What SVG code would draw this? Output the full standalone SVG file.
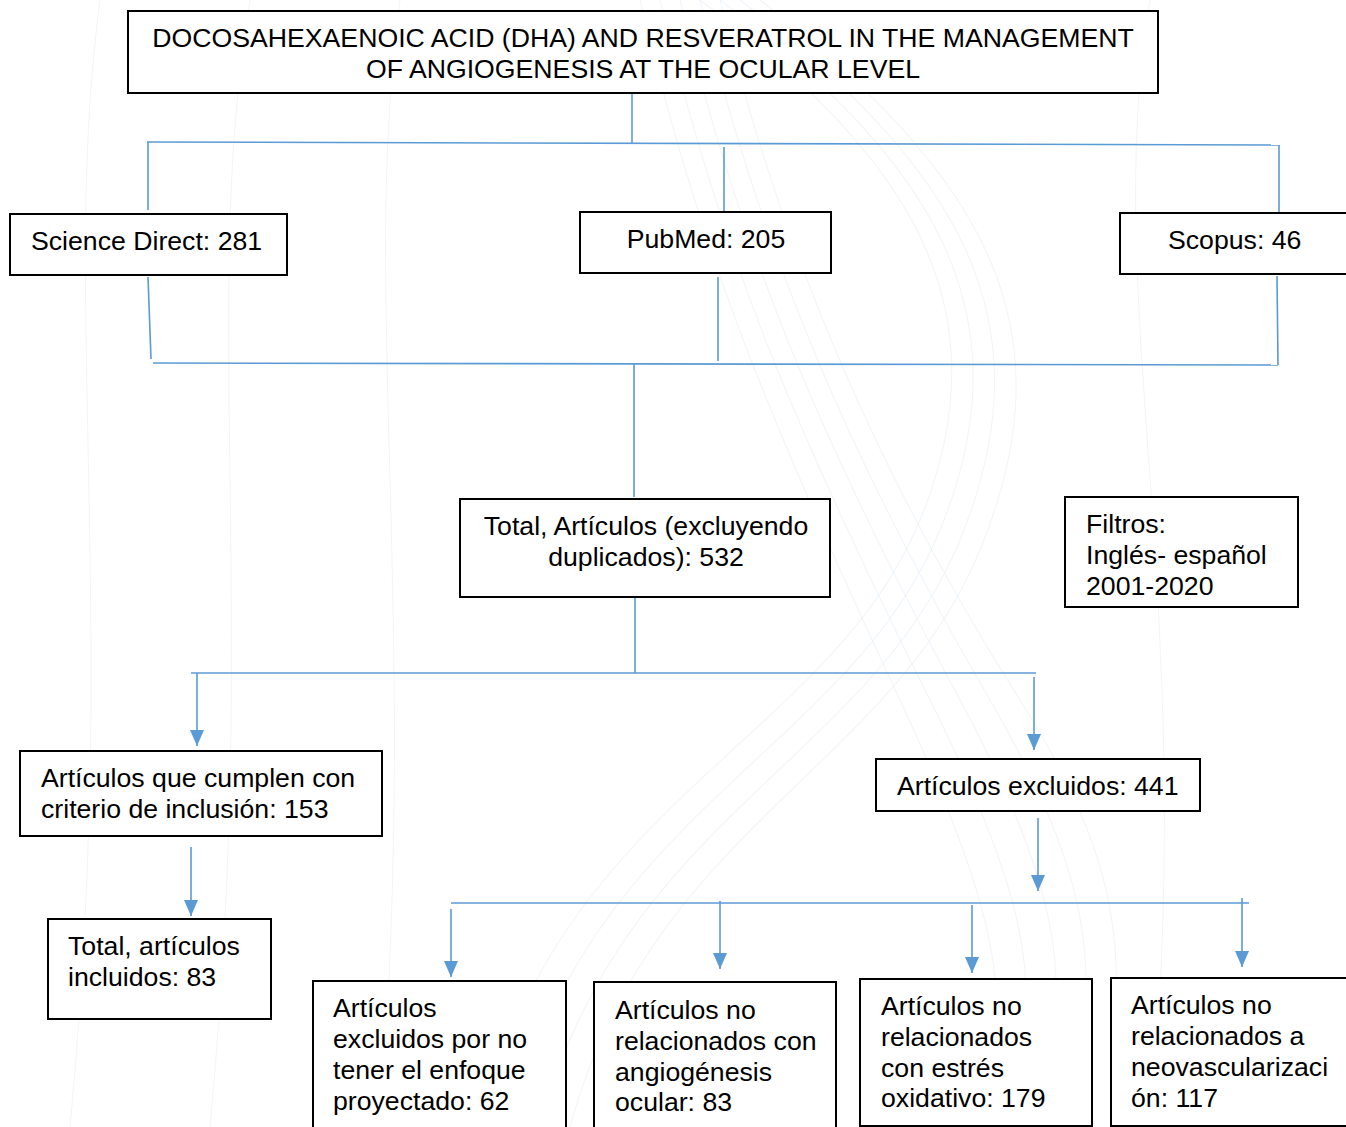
<svg xmlns="http://www.w3.org/2000/svg" width="1346" height="1127" viewBox="0 0 1346 1127">
<style>
.box{fill:#ffffff;stroke:#000000;stroke-width:2}
.t{font-family:"Liberation Sans",Arial,sans-serif;font-size:26.67px;fill:#000000}
.c{fill:none;stroke:#5b9bd5;stroke-width:1.6}
.bg{fill:none;stroke:#e8eff7;stroke-width:1.1;opacity:0.6}
</style>
<defs>
<marker id="ah" viewBox="0 0 16 14" refX="16" refY="7" markerWidth="16" markerHeight="14" markerUnits="userSpaceOnUse" orient="auto">
<path d="M0,0 L16,7 L0,14 z" fill="#5b9bd5"/>
</marker>
</defs>
<rect width="1346" height="1127" fill="#ffffff"/>
<g id="background">
<path class="bg" d="M640,0 C700,250 760,400 900,700 S980,1000 1000,1127"/>
<path class="bg" d="M660,0 C720,250 790,420 930,700 S1010,1000 1030,1127"/>
<path class="bg" d="M680,0 C740,250 820,440 960,700 S1040,1000 1060,1127"/>
<path class="bg" d="M700,0 C760,250 850,460 990,700 S1070,1000 1090,1127"/>
<path class="bg" d="M720,0 C780,250 880,480 1020,700 S1100,1000 1120,1127"/>
<path class="bg" d="M700,0 C900,150 1010,300 920,520 S560,800 480,1127"/>
<path class="bg" d="M720,0 C930,160 1030,310 940,530 S590,810 510,1127"/>
<path class="bg" d="M740,0 C960,170 1050,320 960,540 S620,820 540,1127"/>
<path class="bg" d="M760,0 C990,180 1070,330 980,550 S650,830 570,1127"/>
<path class="bg" d="M400,0 C360,300 420,600 380,1127"/>
<path class="bg" d="M250,0 C200,300 260,600 210,1127"/>
<path class="bg" d="M100,0 C60,300 120,600 70,1127"/>
<path class="bg" d="M1150,0 C1100,300 1200,600 1150,1127"/>
</g>
<g id="connectors">
<path class="c" d="M632,93 L632,143"/>
<path class="c" d="M147,142 L1280,145"/>
<path class="c" d="M148,142 L148,210"/>
<path class="c" d="M724,147 L724,212"/>
<path class="c" d="M1279,145 L1279,212"/>
<path class="c" d="M148,277 L151,359"/>
<path class="c" d="M718,277 L718,361"/>
<path class="c" d="M1277,276 L1278,365"/>
<path class="c" d="M153,363 L1278,365"/>
<path class="c" d="M634,364 L634,497"/>
<path class="c" d="M635,597 L635,673"/>
<path class="c" d="M191,673 L1036,673"/>
<path class="c" d="M197,673 L197,746" marker-end="url(#ah)"/>
<path class="c" d="M1034,677 L1034,750" marker-end="url(#ah)"/>
<path class="c" d="M191,847 L191,916" marker-end="url(#ah)"/>
<path class="c" d="M1038,818 L1038,891" marker-end="url(#ah)"/>
<path class="c" d="M451,903 L1249,903"/>
<path class="c" d="M451,909 L451,977" marker-end="url(#ah)"/>
<path class="c" d="M720,901 L720,969" marker-end="url(#ah)"/>
<path class="c" d="M972,905 L972,973" marker-end="url(#ah)"/>
<path class="c" d="M1242,898 L1242,967" marker-end="url(#ah)"/>
</g>
<g id="title">
<rect class="box" x="128" y="11" width="1030" height="82"/>
<text class="t" x="643" y="47" text-anchor="middle">DOCOSAHEXAENOIC ACID (DHA) AND RESVERATROL IN THE MANAGEMENT</text>
<text class="t" x="643" y="78" text-anchor="middle">OF ANGIOGENESIS AT THE OCULAR LEVEL</text>
</g>
<g id="sciencedirect">
<rect class="box" x="10" y="214" width="277" height="61"/>
<text class="t" x="31" y="250">Science Direct: 281</text>
</g>
<g id="pubmed">
<rect class="box" x="580" y="212" width="251" height="61"/>
<text class="t" x="706" y="248" text-anchor="middle">PubMed: 205</text>
</g>
<g id="scopus">
<rect class="box" x="1120" y="213" width="232" height="61"/>
<text class="t" x="1168" y="249">Scopus: 46</text>
</g>
<g id="total">
<rect class="box" x="460" y="499" width="370" height="98"/>
<text class="t" x="646" y="535" text-anchor="middle">Total, Artículos (excluyendo</text>
<text class="t" x="646" y="566" text-anchor="middle">duplicados): 532</text>
</g>
<g id="filtros">
<rect class="box" x="1065" y="497" width="233" height="110"/>
<text class="t" x="1086" y="533">Filtros:</text>
<text class="t" x="1086" y="564">Inglés- español</text>
<text class="t" x="1086" y="595">2001-2020</text>
</g>
<g id="inclusion">
<rect class="box" x="20" y="751" width="362" height="85"/>
<text class="t" x="41" y="787">Artículos que cumplen con</text>
<text class="t" x="41" y="818">criterio de inclusión: 153</text>
</g>
<g id="incluidos">
<rect class="box" x="48" y="919" width="223" height="100"/>
<text class="t" x="68" y="955">Total, artículos</text>
<text class="t" x="68" y="986">incluidos: 83</text>
</g>
<g id="excluidos">
<rect class="box" x="876" y="759" width="324" height="52"/>
<text class="t" x="897" y="795">Artículos excluidos: 441</text>
</g>
<g id="excl-enfoque">
<rect class="box" x="313" y="981" width="253" height="160"/>
<text class="t" x="333" y="1017">Artículos</text>
<text class="t" x="333" y="1048">excluidos por no</text>
<text class="t" x="333" y="1079">tener el enfoque</text>
<text class="t" x="333" y="1110">proyectado: 62</text>
</g>
<g id="excl-angiogenesis">
<rect class="box" x="594" y="982" width="242" height="160"/>
<text class="t" x="615" y="1019">Artículos no</text>
<text class="t" x="615" y="1050">relacionados con</text>
<text class="t" x="615" y="1081">angiogénesis</text>
<text class="t" x="615" y="1111">ocular: 83</text>
</g>
<g id="excl-estres">
<rect class="box" x="860" y="979" width="232" height="147"/>
<text class="t" x="881" y="1015">Artículos no</text>
<text class="t" x="881" y="1046">relacionados</text>
<text class="t" x="881" y="1077">con estrés</text>
<text class="t" x="881" y="1107">oxidativo: 179</text>
</g>
<g id="excl-neovasc">
<rect class="box" x="1111" y="978" width="245" height="148"/>
<text class="t" x="1131" y="1014">Artículos no</text>
<text class="t" x="1131" y="1045">relacionados a</text>
<text class="t" x="1131" y="1076">neovascularizaci</text>
<text class="t" x="1131" y="1107">ón: 117</text>
</g>
</svg>
